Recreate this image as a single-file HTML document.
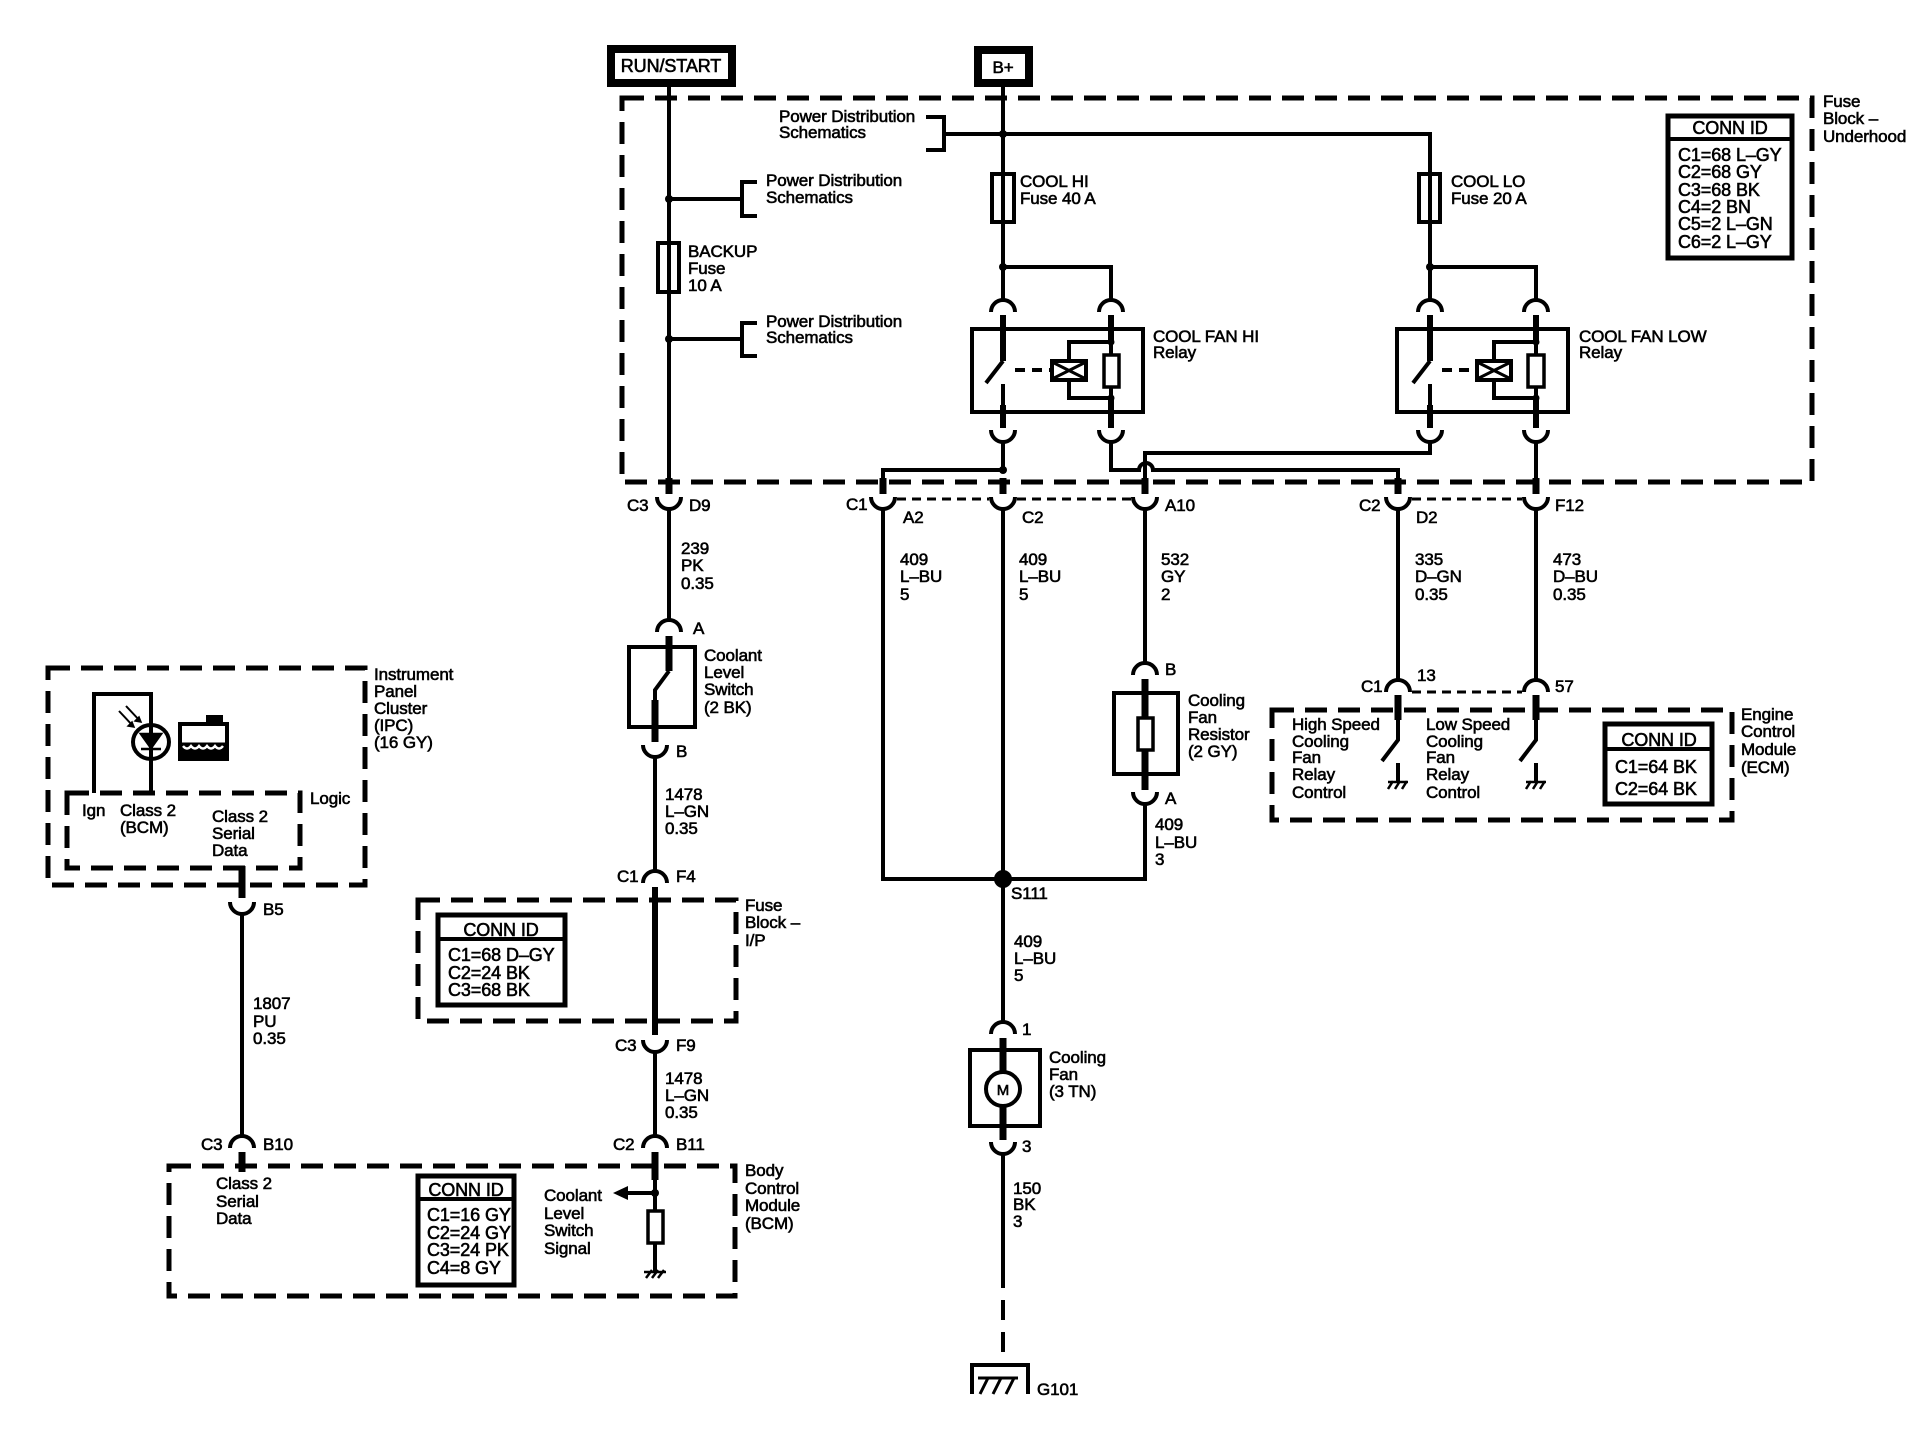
<!DOCTYPE html>
<html><head><meta charset="utf-8"><style>
html,body{margin:0;padding:0;background:#fff;}
svg{display:block}
text{font-family:"Liberation Sans",sans-serif;font-size:17px;fill:#000;letter-spacing:-0.1px;stroke:#000;stroke-width:0.6px}
.b{font-size:18px}
</style></head><body>
<svg width="1926" height="1440" viewBox="0 0 1926 1440" xmlns="http://www.w3.org/2000/svg">
<rect width="1926" height="1440" fill="#fff"/>
<g fill="none" stroke="#000" stroke-width="4">
<rect x="611" y="49" width="121" height="34" stroke-width="8"/>
<rect x="978" y="50" width="51" height="33" stroke-width="8"/>
<g stroke-width="5" stroke-dasharray="22 11">
<rect x="622" y="98" width="1190" height="384"/>
<rect x="48" y="668" width="317" height="217"/>
<rect x="67" y="793" width="233" height="75"/>
<rect x="418" y="900" width="318" height="121"/>
<rect x="169" y="1166" width="566" height="130"/>
<rect x="1272" y="710" width="460" height="110"/>
</g>
<rect x="1668" y="116" width="124" height="142" stroke-width="5"/>
<line x1="1668" y1="139" x2="1792" y2="139" stroke-width="4"/>
<rect x="438" y="915" width="127" height="90" stroke-width="5"/>
<line x1="438" y1="939" x2="565" y2="939"/>
<rect x="418" y="1176" width="96" height="109" stroke-width="5"/>
<line x1="418" y1="1199" x2="514" y2="1199"/>
<rect x="1605" y="724" width="107" height="80" stroke-width="5"/>
<line x1="1605" y1="749" x2="1712" y2="749"/>

<path d="M669 87 V243 M669 292 V480"/>
<rect x="658" y="243" width="21" height="49"/>
<line x1="669" y1="243" x2="669" y2="292"/>
<path d="M669 199 H742 M757 182 H742 V216 H757"/>
<path d="M669 339 H742 M757 323 H742 V356 H757"/>
<line x1="669" y1="478" x2="669" y2="494" stroke-width="7"/>
<path d="M657 497 A12 12 0 0 0 681 497"/>
<path d="M669 509 V620"/>
<path d="M657 632 A12 12 0 0 1 681 632"/>
<line x1="669" y1="636" x2="669" y2="671" stroke-width="7"/>
<rect x="629" y="647" width="66" height="80"/>
<path d="M669 671 L655 690 V727"/>
<line x1="655" y1="700" x2="655" y2="742" stroke-width="7"/>
<path d="M643 745 A12 12 0 0 0 667 745"/>
<path d="M655 757 V871"/>
<path d="M643 883 A12 12 0 0 1 667 883"/>
<line x1="655" y1="887" x2="655" y2="1035" stroke-width="6"/>
<path d="M643 1040 A12 12 0 0 0 667 1040"/>
<path d="M655 1052 V1136"/>
<path d="M643 1148 A12 12 0 0 1 667 1148"/>
<line x1="655" y1="1152" x2="655" y2="1180" stroke-width="7"/>
<path d="M655 1180 V1211 M655 1243 V1272 M625 1193 H655"/>
<rect x="648" y="1211" width="15" height="32" stroke-width="3.5"/>
<path d="M646 1278 L652 1270 M652 1278 L658 1270 M658 1278 L664 1270 M644 1272 H666" stroke-width="2.5"/>

<line x1="242" y1="866" x2="242" y2="898" stroke-width="7"/>
<path d="M230 902 A12 12 0 0 0 254 902"/>
<path d="M242 914 V1136"/>
<path d="M230 1148 A12 12 0 0 1 254 1148"/>
<line x1="242" y1="1152" x2="242" y2="1172" stroke-width="7"/>
<path d="M94 793 V694 H151 V793"/>
<ellipse cx="151" cy="742" rx="18" ry="17" fill="#fff"/>
<line x1="151" y1="722" x2="151" y2="760"/>
<path d="M141 734 H161 L151 748 Z M141 749 H161" fill="#000" stroke-width="2.5"/>
<path d="M119 711 L134 727 M126 706 L141 722" stroke-width="2"/>
<path d="M134 727 l-6 -1 l4 -4 z M141 722 l-6 -1 l4 -4 z" fill="#000" stroke-width="1.5"/>
<rect x="180" y="724" width="47" height="35" fill="#fff" stroke-width="4"/>
<rect x="207" y="716" width="15" height="8" fill="#000" stroke-width="2"/>
<rect x="180" y="744" width="47" height="15" fill="#000" stroke-width="3"/>
<path d="M183 746 q4 5 8 0 q4 5 8 0 q4 5 8 0 q4 5 8 0 q4 5 8 0" stroke="#fff" stroke-width="2.5"/>

<path d="M1003 87 V174 M1003 222 V300"/>
<rect x="992" y="174" width="22" height="48"/>
<line x1="1003" y1="174" x2="1003" y2="222"/>
<path d="M926 117 H944 V150 H926 M944 134 H1430 V174 M1430 222 V300"/>
<rect x="1419" y="174" width="21" height="48"/>
<line x1="1430" y1="174" x2="1430" y2="222"/>
<path d="M1003 267 H1111 V300 M1430 267 H1536 V300"/>

<g>
<path d="M991 312 A12 12 0 0 1 1015 312 M1099 312 A12 12 0 0 1 1123 312"/>
<line x1="1003" y1="315" x2="1003" y2="361" stroke-width="6"/>
<line x1="1111" y1="315" x2="1111" y2="342" stroke-width="6"/>
<rect x="972" y="329" width="171" height="83"/>
<path d="M1003 361 L986 383 M1003 384 V412"/>
<line x1="1015" y1="370" x2="1051" y2="370" stroke-dasharray="10 7"/>
<rect x="1052" y="361" width="34" height="19" stroke-width="4"/>
<path d="M1054 363 L1084 378 M1084 363 L1054 378" stroke-width="3"/>
<path d="M1069 361 V342 H1111 V355 M1111 387 V398 H1069 V380"/>
<rect x="1104" y="355" width="15" height="32" stroke-width="3.5"/>
<line x1="1111" y1="398" x2="1111" y2="428" stroke-width="6"/>
<line x1="1003" y1="405" x2="1003" y2="428" stroke-width="6"/>
<path d="M991 430 A12 12 0 0 0 1015 430 M1099 430 A12 12 0 0 0 1123 430"/>
</g>
<g>
<path d="M1418 312 A12 12 0 0 1 1442 312 M1524 312 A12 12 0 0 1 1548 312"/>
<line x1="1430" y1="315" x2="1430" y2="361" stroke-width="6"/>
<line x1="1536" y1="315" x2="1536" y2="342" stroke-width="6"/>
<rect x="1397" y="329" width="171" height="83"/>
<path d="M1430 361 L1413 383 M1430 384 V412"/>
<line x1="1442" y1="370" x2="1476" y2="370" stroke-dasharray="10 7"/>
<rect x="1477" y="361" width="34" height="19" stroke-width="4"/>
<path d="M1479 363 L1509 378 M1509 363 L1479 378" stroke-width="3"/>
<path d="M1494 361 V342 H1536 V355 M1536 387 V398 H1494 V380"/>
<rect x="1528" y="355" width="16" height="32" stroke-width="3.5"/>
<line x1="1536" y1="398" x2="1536" y2="428" stroke-width="6"/>
<line x1="1430" y1="405" x2="1430" y2="428" stroke-width="6"/>
<path d="M1418 430 A12 12 0 0 0 1442 430 M1524 430 A12 12 0 0 0 1548 430"/>
</g>

<path d="M1003 442 V470 H883 V480"/>
<path d="M1111 442 V470 H1139 A7 7 0 0 1 1153 470 H1398 V480"/>
<path d="M1430 442 V453 H1145 V480"/>
<path d="M1536 442 V480"/>
<g stroke-width="7">
<line x1="883" y1="478" x2="883" y2="494"/>
<line x1="1003" y1="478" x2="1003" y2="494"/>
<line x1="1145" y1="478" x2="1145" y2="494"/>
<line x1="1398" y1="478" x2="1398" y2="494"/>
<line x1="1536" y1="478" x2="1536" y2="494"/>
</g>
<path d="M871 497 A12 12 0 0 0 895 497 M991 497 A12 12 0 0 0 1015 497 M1133 497 A12 12 0 0 0 1157 497 M1386 497 A12 12 0 0 0 1410 497 M1524 497 A12 12 0 0 0 1548 497"/>
<path d="M897 499 H989 M1017 499 H1131 M1412 499 H1522" stroke-width="3" stroke-dasharray="9 6"/>
<path d="M883 509 V879 H1145 V804 M1003 509 V1022 M1145 509 V663 M1398 509 V680 M1536 509 V680"/>
<circle cx="1003" cy="879" r="7" fill="#000"/>
<path d="M1133 675 A12 12 0 0 1 1157 675"/>
<line x1="1145" y1="679" x2="1145" y2="718" stroke-width="7"/>
<line x1="1145" y1="750" x2="1145" y2="790" stroke-width="7"/>
<rect x="1114" y="693" width="64" height="81"/>
<rect x="1138" y="718" width="15" height="32" stroke-width="3.5" fill="#fff"/>
<path d="M1133 792 A12 12 0 0 0 1157 792"/>
<path d="M991 1034 A12 12 0 0 1 1015 1034"/>
<line x1="1003" y1="1038" x2="1003" y2="1072" stroke-width="7"/>
<line x1="1003" y1="1106" x2="1003" y2="1140" stroke-width="7"/>
<rect x="970" y="1050" width="70" height="76"/>
<ellipse cx="1003" cy="1089" rx="17" ry="17" fill="#fff"/>
<path d="M991 1142 A12 12 0 0 0 1015 1142"/>
<path d="M1003 1154 V1268"/>
<path d="M1003 1268 V1363" stroke-dasharray="20 12"/>
<path d="M972 1394 V1365 H1028 V1394"/>
<path d="M978 1378 H1018 M980 1394 L988 1378 M993 1394 L1001 1378 M1006 1394 L1014 1378" stroke-width="3"/>
<path d="M1386 692 A12 12 0 0 1 1410 692 M1524 692 A12 12 0 0 1 1548 692"/>
<path d="M1412 692 H1522" stroke-width="3" stroke-dasharray="9 6"/>
<line x1="1398" y1="695" x2="1398" y2="720" stroke-width="7"/>
<line x1="1536" y1="695" x2="1536" y2="720" stroke-width="7"/>
<path d="M1398 720 V740 L1382 761 M1398 763 V781 M1536 720 V740 L1520 761 M1536 763 V781"/>
<path d="M1388 782 H1408 M1388 789 L1393 781 M1395 789 L1400 781 M1402 789 L1407 781 M1526 782 H1546 M1526 789 L1531 781 M1533 789 L1538 781 M1540 789 L1545 781" stroke-width="2.5"/>
</g>
<g fill="#000">
<circle cx="669" cy="199" r="4"/><circle cx="669" cy="339" r="4"/>
<circle cx="1003" cy="134" r="4"/><circle cx="1003" cy="267" r="4"/><circle cx="1430" cy="267" r="4"/>
<circle cx="1003" cy="470" r="4"/><circle cx="1111" cy="342" r="3.5"/><circle cx="1111" cy="398" r="3.5"/>
<circle cx="1536" cy="342" r="3.5"/><circle cx="1536" cy="398" r="3.5"/><circle cx="655" cy="1193" r="4"/>
<path d="M613 1193 L628 1186 L628 1200 Z"/>
</g>

<text x="671" y="72" text-anchor="middle" class="b">RUN/START</text>
<text x="1003" y="73" text-anchor="middle">B+</text>
<text x="779" y="122">Power Distribution</text><text x="779" y="138">Schematics</text>
<text x="766" y="186">Power Distribution</text><text x="766" y="203">Schematics</text>
<text x="766" y="327">Power Distribution</text><text x="766" y="343">Schematics</text>
<text x="688" y="257">BACKUP</text><text x="688" y="274">Fuse</text><text x="688" y="291">10 A</text>
<text x="1020" y="187">COOL HI</text><text x="1020" y="204">Fuse 40 A</text>
<text x="1451" y="187">COOL LO</text><text x="1451" y="204">Fuse 20 A</text>
<text x="1153" y="342">COOL FAN HI</text><text x="1153" y="358">Relay</text>
<text x="1579" y="342">COOL FAN LOW</text><text x="1579" y="358">Relay</text>
<text x="1823" y="107">Fuse</text><text x="1823" y="124">Block –</text><text x="1823" y="142">Underhood</text>
<text x="1730" y="134" text-anchor="middle" class="b">CONN ID</text>
<text x="1678" y="161" class="b">C1=68 L–GY</text><text x="1678" y="178" class="b">C2=68 GY</text>
<text x="1678" y="196" class="b">C3=68 BK</text><text x="1678" y="213" class="b">C4=2 BN</text>
<text x="1678" y="230" class="b">C5=2 L–GN</text><text x="1678" y="248" class="b">C6=2 L–GY</text>

<text x="627" y="511">C3</text><text x="689" y="511">D9</text>
<text x="846" y="510">C1</text><text x="903" y="523">A2</text>
<text x="1022" y="523">C2</text><text x="1165" y="511">A10</text>
<text x="1359" y="511">C2</text><text x="1416" y="523">D2</text><text x="1555" y="511">F12</text>

<text x="681" y="554">239</text><text x="681" y="571">PK</text><text x="681" y="589">0.35</text>
<text x="900" y="565">409</text><text x="900" y="582">L–BU</text><text x="900" y="600">5</text>
<text x="1019" y="565">409</text><text x="1019" y="582">L–BU</text><text x="1019" y="600">5</text>
<text x="1161" y="565">532</text><text x="1161" y="582">GY</text><text x="1161" y="600">2</text>
<text x="1415" y="565">335</text><text x="1415" y="582">D–GN</text><text x="1415" y="600">0.35</text>
<text x="1553" y="565">473</text><text x="1553" y="582">D–BU</text><text x="1553" y="600">0.35</text>

<text x="693" y="634">A</text>
<text x="704" y="661">Coolant</text><text x="704" y="678">Level</text><text x="704" y="695">Switch</text><text x="704" y="713">(2 BK)</text>
<text x="676" y="757">B</text>
<text x="665" y="800">1478</text><text x="665" y="817">L–GN</text><text x="665" y="834">0.35</text>
<text x="617" y="882">C1</text><text x="676" y="882">F4</text>
<text x="745" y="911">Fuse</text><text x="745" y="928">Block –</text><text x="745" y="946">I/P</text>
<text x="501" y="936" text-anchor="middle" class="b">CONN ID</text>
<text x="448" y="961" class="b">C1=68 D–GY</text><text x="448" y="979" class="b">C2=24 BK</text><text x="448" y="996" class="b">C3=68 BK</text>
<text x="615" y="1051">C3</text><text x="676" y="1051">F9</text>
<text x="665" y="1084">1478</text><text x="665" y="1101">L–GN</text><text x="665" y="1118">0.35</text>
<text x="613" y="1150">C2</text><text x="676" y="1150">B11</text>
<text x="745" y="1176">Body</text><text x="745" y="1194">Control</text><text x="745" y="1211">Module</text><text x="745" y="1229">(BCM)</text>
<text x="544" y="1201">Coolant</text><text x="544" y="1219">Level</text><text x="544" y="1236">Switch</text><text x="544" y="1254">Signal</text>
<text x="466" y="1196" text-anchor="middle" class="b">CONN ID</text>
<text x="427" y="1221" class="b">C1=16 GY</text><text x="427" y="1239" class="b">C2=24 GY</text>
<text x="427" y="1256" class="b">C3=24 PK</text><text x="427" y="1274" class="b">C4=8 GY</text>
<text x="216" y="1189">Class 2</text><text x="216" y="1207">Serial</text><text x="216" y="1224">Data</text>
<text x="201" y="1150">C3</text><text x="263" y="1150">B10</text>
<text x="253" y="1009">1807</text><text x="253" y="1027">PU</text><text x="253" y="1044">0.35</text>
<text x="263" y="915">B5</text>
<text x="374" y="680">Instrument</text><text x="374" y="697">Panel</text><text x="374" y="714">Cluster</text><text x="374" y="731">(IPC)</text><text x="374" y="748">(16 GY)</text>
<text x="310" y="804">Logic</text>
<text x="82" y="816">Ign</text><text x="120" y="816">Class 2</text><text x="120" y="833">(BCM)</text>
<text x="212" y="822">Class 2</text><text x="212" y="839">Serial</text><text x="212" y="856">Data</text>

<text x="1165" y="675">B</text>
<text x="1188" y="706">Cooling</text><text x="1188" y="723">Fan</text><text x="1188" y="740">Resistor</text><text x="1188" y="757">(2 GY)</text>
<text x="1165" y="804">A</text>
<text x="1155" y="830">409</text><text x="1155" y="848">L–BU</text><text x="1155" y="865">3</text>
<text x="1011" y="899">S111</text>
<text x="1014" y="947">409</text><text x="1014" y="964">L–BU</text><text x="1014" y="981">5</text>
<text x="1022" y="1035">1</text>
<text x="1003" y="1095" text-anchor="middle" style="font-size:15px">M</text>
<text x="1049" y="1063">Cooling</text><text x="1049" y="1080">Fan</text><text x="1049" y="1097">(3 TN)</text>
<text x="1022" y="1152">3</text>
<text x="1013" y="1194">150</text><text x="1013" y="1210">BK</text><text x="1013" y="1227">3</text>
<text x="1037" y="1395">G101</text>

<text x="1361" y="692">C1</text><text x="1417" y="681">13</text><text x="1555" y="692">57</text>
<text x="1292" y="730">High Speed</text><text x="1292" y="747">Cooling</text><text x="1292" y="763">Fan</text><text x="1292" y="780">Relay</text><text x="1292" y="798">Control</text>
<text x="1426" y="730">Low Speed</text><text x="1426" y="747">Cooling</text><text x="1426" y="763">Fan</text><text x="1426" y="780">Relay</text><text x="1426" y="798">Control</text>
<text x="1659" y="746" text-anchor="middle" class="b">CONN ID</text>
<text x="1615" y="773" class="b">C1=64 BK</text><text x="1615" y="795" class="b">C2=64 BK</text>
<text x="1741" y="720">Engine</text><text x="1741" y="737">Control</text><text x="1741" y="755">Module</text><text x="1741" y="773">(ECM)</text>
</svg>
</body></html>
